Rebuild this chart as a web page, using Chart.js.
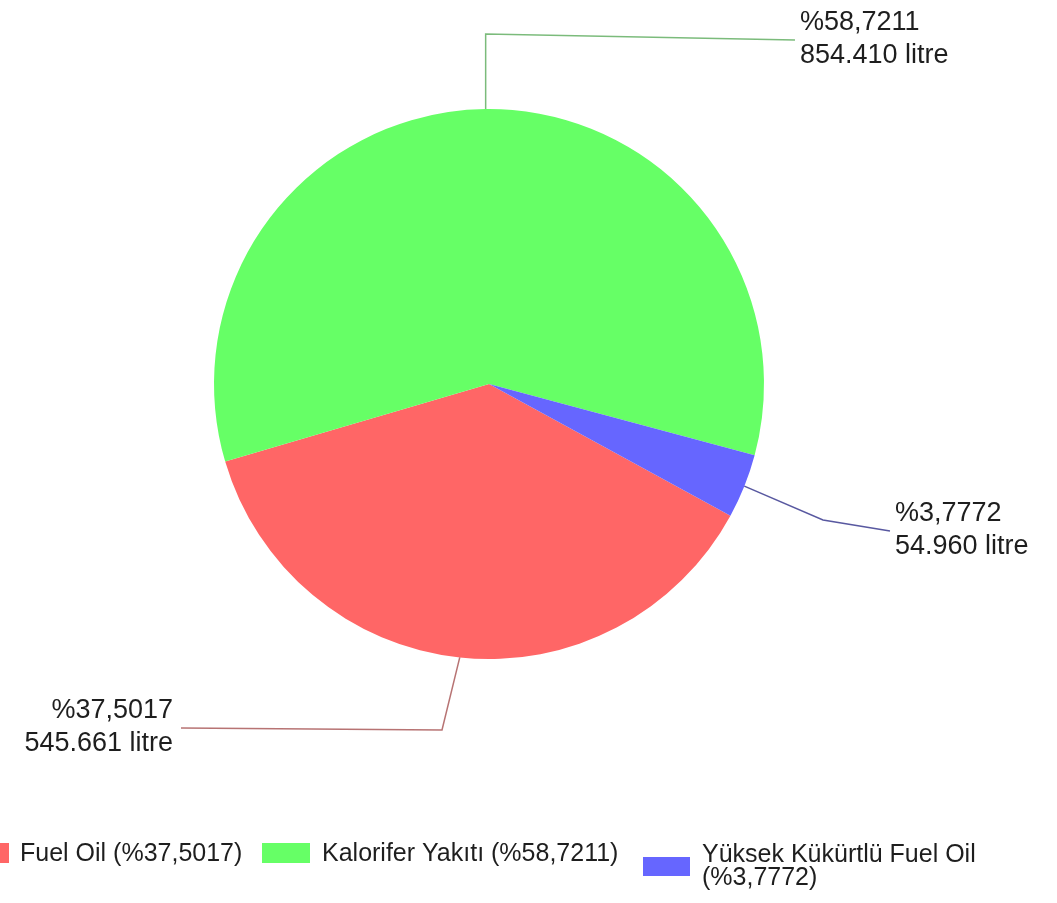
<!DOCTYPE html>
<html>
<head>
<meta charset="utf-8">
<script src="https://cdn.jsdelivr.net/npm/chart.js@4.4.0/dist/chart.umd.min.js"></script>
<style>
  html, body { margin: 0; padding: 0; background: #ffffff; }
  #wrap { width: 1057px; height: 903px; position: relative; overflow: hidden; }
</style>
</head>
<body>
<div id="wrap"><canvas id="c" width="1057" height="903"></canvas></div>
<script>
// ---- data ----
const categories = ['Fuel Oil', 'Kalorifer Yakıtı', 'Yüksek Kükürtlü Fuel Oil'];
const litres = [545661, 854410, 54960];
const litreLabels = ['545.661', '854.410', '54.960'];
const percentLabels = ['37,5017', '58,7211', '3,7772'];
const sliceColors = ['#FF6666', '#66FF66', '#6666FF'];
const leaderColors = ['rgba(170,90,90,0.85)', 'rgba(90,170,90,0.8)', 'rgba(70,70,150,0.9)'];

// ---- layout (annotation placement only) ----
const FONT = '"Liberation Sans", Arial, sans-serif';
const labelLayout = [
  { elbow: { x: 442, y: 730 }, end: { x: 181, y: 728 }, align: 'right' },
  { elbow: { x: null, y: 34 }, end: { x: 795, y: 40 }, align: 'left' },
  { elbow: { x: 823, y: 520 }, end: { x: 890, y: 531 }, align: 'left' }
];
const legendLayout = [
  { box: { x: -38, y: 843, w: 47, h: 20 }, text: { x: 20, y: 854 }, lines: 1 },
  { box: { x: 262, y: 843, w: 48, h: 20 }, text: { x: 322, y: 854 }, lines: 1 },
  { box: { x: 643, y: 857, w: 47, h: 19 }, text: { x: 702, y: 855 }, lines: 2 }
];

const labelPlugin = {
  id: 'leaderLabels',
  afterDraw(chart) {
    const ctx = chart.ctx;
    const meta = chart.getDatasetMeta(0);
    ctx.save();
    meta.data.forEach((arc, i) => {
      const p = arc.getProps(['x', 'y', 'startAngle', 'endAngle', 'outerRadius'], true);
      const mid = (p.startAngle + p.endAngle) / 2;
      const ax = p.x + Math.cos(mid) * p.outerRadius;
      const ay = p.y + Math.sin(mid) * p.outerRadius;
      const L = labelLayout[i];
      const ex = L.elbow.x === null ? ax : L.elbow.x;
      ctx.strokeStyle = leaderColors[i];
      ctx.lineWidth = 1.5;
      ctx.beginPath();
      ctx.moveTo(ax, ay);
      ctx.lineTo(ex, L.elbow.y);
      ctx.lineTo(L.end.x, L.end.y);
      ctx.stroke();
      ctx.fillStyle = '#1e1e1e';
      ctx.font = '27px ' + FONT;
      ctx.textBaseline = 'middle';
      ctx.textAlign = L.align;
      const tx = L.align === 'left' ? L.end.x + 5 : L.end.x - 8;
      ctx.fillText('%' + percentLabels[i], tx, L.end.y - 17);
      ctx.fillText(litreLabels[i] + ' litre', tx, L.end.y + 16);
    });
    // legend
    ctx.font = '25px ' + FONT;
    ctx.textAlign = 'left';
    ctx.textBaseline = 'middle';
    categories.forEach((name, i) => {
      const G = legendLayout[i];
      ctx.fillStyle = sliceColors[i];
      ctx.fillRect(G.box.x, G.box.y, G.box.w, G.box.h);
      ctx.fillStyle = '#1e1e1e';
      const txt = name + ' (%' + percentLabels[i] + ')';
      if (G.lines === 2) {
        ctx.fillText(name, G.text.x, G.text.y);
        ctx.fillText('(%' + percentLabels[i] + ')', G.text.x, G.text.y + 23);
      } else {
        ctx.fillText(txt, G.text.x, G.text.y);
      }
    });
    ctx.restore();
  }
};

const startAngleDeg = 118.6;

new Chart(document.getElementById('c'), {
  type: 'pie',
  data: {
    labels: categories,
    datasets: [{
      data: litres,
      backgroundColor: sliceColors,
      borderWidth: 0,
      hoverOffset: 0
    }]
  },
  options: {
    responsive: false,
    animation: false,
    rotation: startAngleDeg,
    layout: { padding: { left: 214, right: 293, top: 109, bottom: 244 } },
    plugins: {
      legend: { display: false },
      tooltip: { enabled: false }
    }
  },
  plugins: [labelPlugin]
});
</script>
</body>
</html>
